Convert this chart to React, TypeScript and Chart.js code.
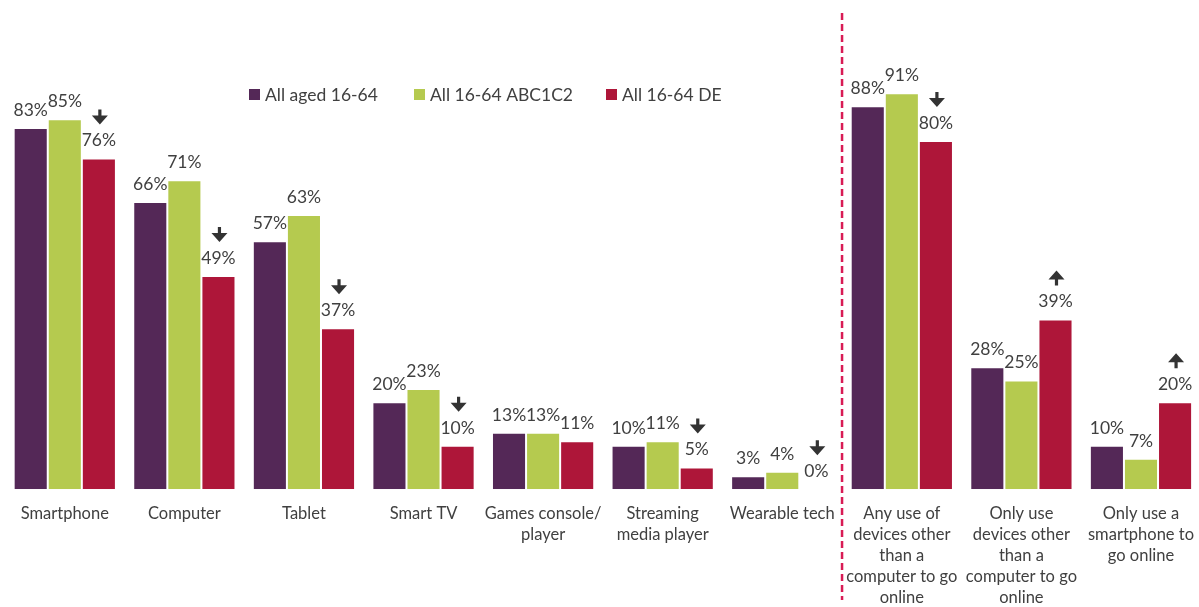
import React, { useEffect, useRef } from "react";
import { Chart, registerables } from "chart.js";

Chart.register(...registerables);

const categories: (string | string[])[] = [
  "Smartphone",
  "Computer",
  "Tablet",
  "Smart TV",
  ["Games console/", "player"],
  ["Streaming", "media player"],
  "Wearable tech",
  ["Any use of", "devices other", "than a", "computer to go", "online"],
  ["Only use", "devices other", "than a", "computer to go", "online"],
  ["Only use a", "smartphone to", "go online"],
];

const seriesNames = ["All aged 16-64", "All 16-64 ABC1C2", "All 16-64 DE"];
const allAged = [83, 66, 57, 20, 13, 10, 3, 88, 28, 10];
const abc1c2 = [85, 71, 63, 23, 13, 11, 4, 91, 25, 7];
const de = [76, 49, 37, 10, 11, 5, 0, 80, 39, 20];
// significance arrows for the DE series: -1 down, 1 up, 0 none
const deArrows = [-1, -1, -1, -1, 0, -1, -1, -1, 1, 1];

const colors = ["#542857", "#B5CA4F", "#AE1639"];
const FONT = "Lato, 'Open Sans', sans-serif";
const TEXT = "#404040";

const overlayPlugin = {
  id: "overlay",
  afterDatasetsDraw(chart: any) {
    const ctx = chart.ctx;
    ctx.save();
    // value labels
    ctx.font = `17.5px ${FONT}`;
    ctx.fillStyle = TEXT;
    ctx.textAlign = "center";
    ctx.textBaseline = "alphabetic";
    chart.data.datasets.forEach((ds: any, di: number) => {
      const meta = chart.getDatasetMeta(di);
      meta.data.forEach((bar: any, i: number) => {
        ctx.fillText(ds.data[i] + "%", bar.x, bar.y - 12);
      });
    });
    // arrows
    const deMeta = chart.getDatasetMeta(2);
    ctx.fillStyle = "#333333";
    deMeta.data.forEach((bar: any, i: number) => {
      const dir = deArrows[i];
      if (!dir) return;
      const cx = bar.x + 1;
      const top = bar.y - 49;
      const h = 15;
      const sw = 1.6;
      const hw = 8;
      const headH = 9;
      ctx.beginPath();
      if (dir < 0) {
        ctx.rect(cx - sw, top, sw * 2, h - headH + 0.5);
        ctx.moveTo(cx - hw, top + h - headH);
        ctx.lineTo(cx + hw, top + h - headH);
        ctx.lineTo(cx, top + h);
        ctx.closePath();
      } else {
        ctx.moveTo(cx, top);
        ctx.lineTo(cx + hw, top + headH);
        ctx.lineTo(cx - hw, top + headH);
        ctx.closePath();
        ctx.rect(cx - sw, top + headH - 0.5, sw * 2, h - headH + 0.5);
      }
      ctx.fill();
    });
    // dashed divider
    const xs = chart.scales.x;
    const dx = (xs.getPixelForTick(6) + xs.getPixelForTick(7)) / 2;
    ctx.strokeStyle = "#D81B55";
    ctx.lineWidth = 2.5;
    ctx.setLineDash([7, 4]);
    ctx.beginPath();
    ctx.moveTo(dx, 13);
    ctx.lineTo(dx, 600);
    ctx.stroke();
    ctx.setLineDash([]);
    // legend
    ctx.font = `17.5px ${FONT}`;
    ctx.textAlign = "left";
    ctx.textBaseline = "middle";
    const lx = [249, 414, 606];
    seriesNames.forEach((n, i) => {
      ctx.fillStyle = colors[i];
      ctx.fillRect(lx[i], 89, 11, 11);
      ctx.fillStyle = TEXT;
      ctx.fillText(n, lx[i] + 16, 95);
    });
    ctx.restore();
  },
};

export default function App() {
  const ref = useRef<HTMLCanvasElement>(null);
  useEffect(() => {
    if (!ref.current) return;
    const chart = new Chart(ref.current, {
      type: "bar",
      data: {
        labels: categories,
        datasets: [allAged, abc1c2, de].map((d, i) => ({
          label: seriesNames[i],
          data: d,
          backgroundColor: colors[i],
          borderColor: "rgba(255,255,255,0.45)",
          borderWidth: 1,
          categoryPercentage: 0.855,
          barPercentage: 1,
        })),
      },
      options: {
        responsive: false,
        animation: false,
        layout: { padding: { top: 54, left: 5, right: 0, bottom: -15 } },
        plugins: { legend: { display: false }, tooltip: { enabled: false } },
        scales: {
          y: { display: false, min: 0, max: 100 },
          x: {
            grid: { display: false, drawTicks: false },
            border: { display: false },
            ticks: {
              color: TEXT,
              font: { family: FONT, size: 16.5, lineHeight: 1.27 },
              padding: 14,
              maxRotation: 0,
              autoSkip: false,
            },
          },
        },
      },
      plugins: [overlayPlugin],
    });
    return () => chart.destroy();
  }, []);
  return (
    <div
      style={{
        position: "fixed",
        left: 0,
        top: 0,
        width: 1199,
        height: 607,
        overflow: "hidden",
        background: "#fff",
      }}
    >
      <canvas ref={ref} width={1208} height={607} />
    </div>
  );
}
